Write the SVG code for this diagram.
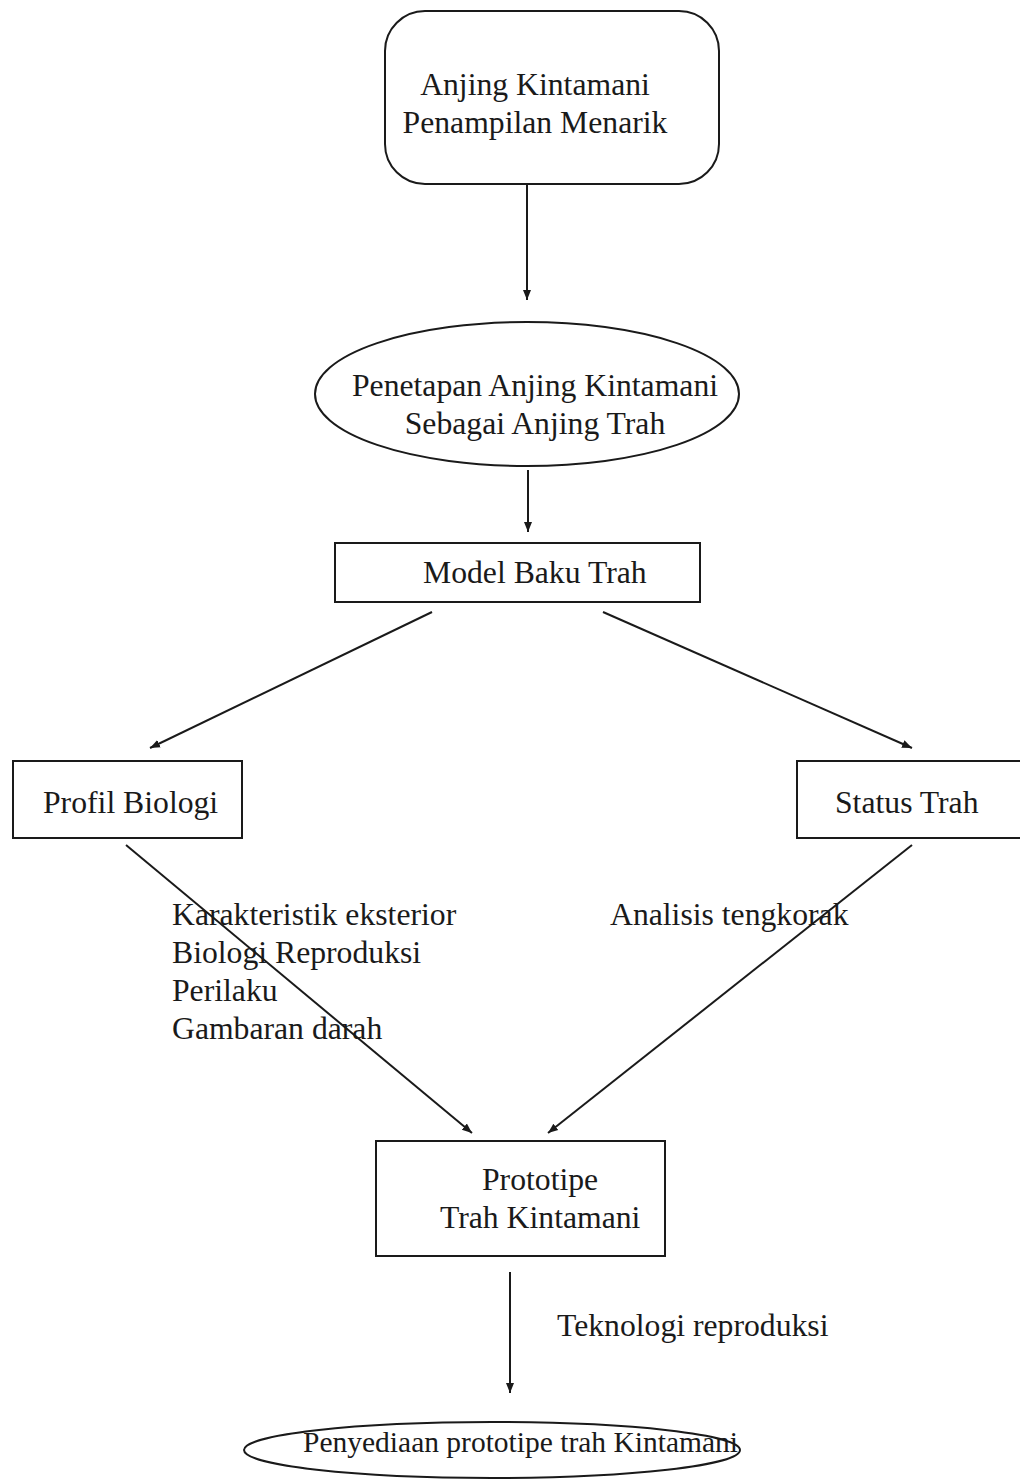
<svg xmlns="http://www.w3.org/2000/svg" width="1020" height="1481" viewBox="0 0 1020 1481">
<style>
.shape{fill:none;stroke:#1a1a1a;stroke-width:2}
.t{font-family:"Liberation Serif","Times New Roman",serif;font-size:31.7px;fill:#1a1a1a}
.c{text-anchor:middle}
.edge{stroke:#1a1a1a;stroke-width:2;fill:none;marker-end:url(#ah)}
</style>
<defs>
<marker id="ah" viewBox="0 0 10 10" refX="10" refY="5" markerWidth="10" markerHeight="10" markerUnits="userSpaceOnUse" orient="auto">
<path d="M0,1 L10,5 L0,9 Z" fill="#1a1a1a"/>
</marker>
</defs>
<rect width="1020" height="1481" fill="#ffffff"/>
<g id="connectors">
<line class="edge" x1="527" y1="185" x2="527" y2="300"/>
<line class="edge" x1="528" y1="470" x2="528" y2="532"/>
<line class="edge" x1="432" y1="612" x2="150" y2="748"/>
<line class="edge" x1="603" y1="612" x2="912" y2="748"/>
<line class="edge" x1="126" y1="845" x2="472" y2="1133"/>
<line class="edge" x1="912" y1="845" x2="548" y2="1133"/>
<line class="edge" x1="510" y1="1272" x2="510" y2="1393"/>
</g>
<g id="n1">
<rect class="shape" x="385" y="11" width="334" height="173" rx="40" ry="40"/>
<text class="t c" x="535" y="95">Anjing Kintamani</text>
<text class="t c" x="535" y="133">Penampilan Menarik</text>
</g>
<g id="n2">
<ellipse class="shape" cx="527" cy="394" rx="212" ry="72"/>
<text class="t c" x="535" y="396">Penetapan Anjing Kintamani</text>
<text class="t c" x="535" y="434">Sebagai Anjing Trah</text>
</g>
<g id="n3">
<rect class="shape" x="335" y="543" width="365" height="59"/>
<text class="t" x="423" y="583">Model Baku Trah</text>
</g>
<g id="n4">
<rect class="shape" x="13" y="761" width="229" height="77"/>
<text class="t" x="43" y="813">Profil Biologi</text>
</g>
<g id="n5">
<rect class="shape" x="797" y="761" width="240" height="77"/>
<text class="t" x="835" y="813">Status Trah</text>
</g>
<g id="labels">
<text class="t" x="172" y="925">Karakteristik eksterior</text>
<text class="t" x="172" y="963">Biologi Reproduksi</text>
<text class="t" x="172" y="1001">Perilaku</text>
<text class="t" x="172" y="1039">Gambaran darah</text>
<text class="t" x="610" y="925">Analisis tengkorak</text>
<text class="t" x="557" y="1336">Teknologi reproduksi</text>
</g>
<g id="n6">
<rect class="shape" x="376" y="1141" width="289" height="115"/>
<text class="t" x="482" y="1190">Prototipe</text>
<text class="t" x="440" y="1228">Trah Kintamani</text>
</g>
<g id="n7">
<ellipse class="shape" cx="492" cy="1450" rx="248" ry="28"/>
<text class="t" x="303" y="1452" style="font-size:29.5px">Penyediaan prototipe trah Kintamani</text>
</g>
</svg>
